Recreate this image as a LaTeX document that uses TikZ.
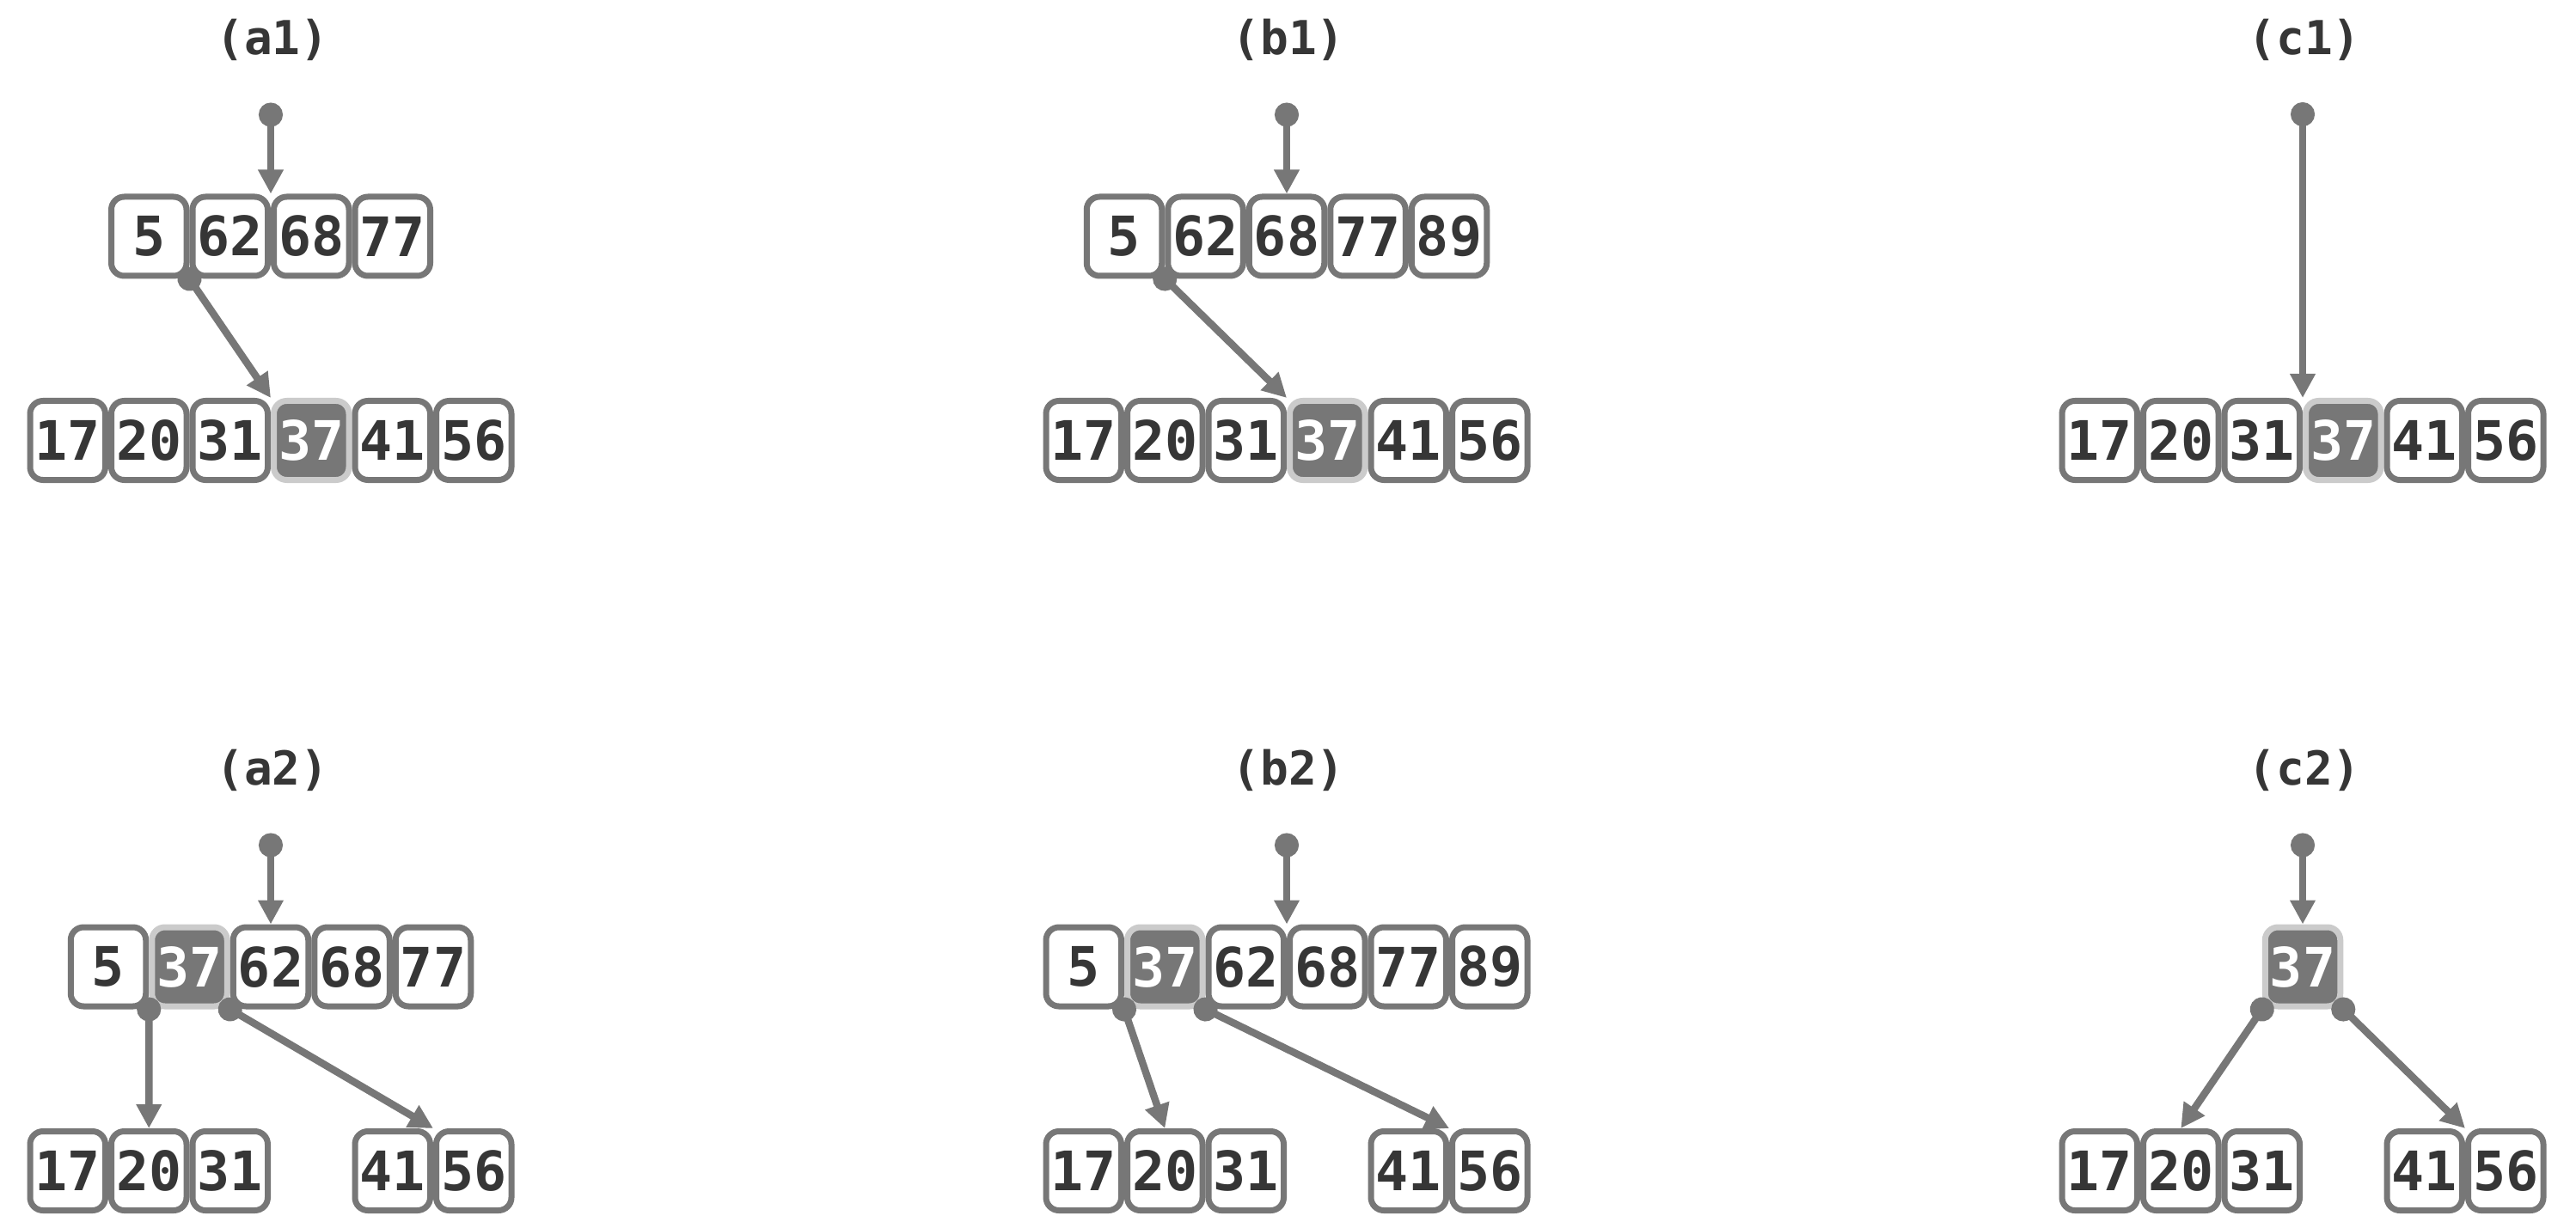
\documentclass[tikz,border=0pt]{standalone}
\usepackage{fontspec}
\newfontfamily\keyfont{DejaVu Sans Mono}
\usetikzlibrary{arrows.meta}
\usetikzlibrary{positioning}

\definecolor{linegray}{HTML}{777777}
\definecolor{rimgray}{HTML}{CBCBCB}
\definecolor{inkgray}{HTML}{363636}

\tikzset{
  key/.style={draw=linegray, fill=white, line width=0.7mm, rounded corners=1.5mm,
    minimum width=8.75mm, minimum height=9.2mm, inner sep=0pt, text=inkgray,
    font=\keyfont\bfseries\fontsize{18}{18}\selectfont},
  hit/.style={key, fill=linegray, draw=rimgray, text=white},
  caption/.style={text=inkgray, font=\keyfont\bfseries\fontsize{15.5}{15.5}\selectfont},
  ptr/.style={draw=linegray, line width=0.85mm, shorten <=-1.4mm,
    {Circle[length=2.8mm]}-{Triangle[length=2.8mm,width=2.8mm]}},
}

\begin{document}
\begin{tikzpicture}
  \useasboundingbox (0,0) rectangle (29.97,14.28);

  % (a1): 37 found in the leaf
  \node[caption] (ta1) at (3.17,13.82) {(a1)};
  \foreach \k [count=\i from 0] in {5,62,68,77}
    \node[key] (a1t\i) at (1.7325+0.945*\i,11.53) {\k};
  \foreach \k/\s [count=\i from 0] in {17/key,20/key,31/key,37/hit,41/key,56/key}
    \node[\s] (a1b\i) at (0.7875+0.945*\i,9.155) {\k};
  \coordinate[above=9.2mm of a1t1.north east] (ra1);
  \draw[ptr] (ra1) -- (a1t1.north east);
  \draw[ptr] (a1t0.south east) -- (a1b2.north east);

  % (b1): parent already full
  \node[caption] (tb1) at (14.99,13.82) {(b1)};
  \foreach \k [count=\i from 0] in {5,62,68,77,89}
    \node[key] (b1t\i) at (13.08+0.945*\i,11.53) {\k};
  \foreach \k/\s [count=\i from 0] in {17/key,20/key,31/key,37/hit,41/key,56/key}
    \node[\s] (b1b\i) at (12.6075+0.945*\i,9.155) {\k};
  \coordinate[above=9.2mm of b1t2.north] (rb1);
  \draw[ptr] (rb1) -- (b1t2.north);
  \draw[ptr] (b1t0.south east) -- (b1b2.north east);

  % (c1): the leaf is the root
  \node[caption] (tc1) at (26.81,13.82) {(c1)};
  \foreach \k/\s [count=\i from 0] in {17/key,20/key,31/key,37/hit,41/key,56/key}
    \node[\s] (c1b\i) at (24.4275+0.945*\i,9.155) {\k};
  \coordinate[above=33mm of c1b2.north east] (rc1);
  \draw[ptr] (rc1) -- (c1b2.north east);

  % (a2): 37 moved up, leaf split in two
  \node[caption] (ta2) at (3.17,5.32) {(a2)};
  \foreach \k/\s [count=\i from 0] in {5/key,37/hit,62/key,68/key,77/key}
    \node[\s] (a2t\i) at (1.26+0.945*\i,3.03) {\k};
  \foreach \k [count=\i from 0] in {17,20,31}
    \node[key] (a2b\i) at (0.7875+0.945*\i,0.655) {\k};
  \foreach \k [count=\i from 0] in {41,56}
    \node[key] (a2r\i) at (4.5675+0.945*\i,0.655) {\k};
  \coordinate[above=9.2mm of a2t2.north] (ra2);
  \draw[ptr] (ra2) -- (a2t2.north);
  \draw[ptr] (a2t1.south west) -- (a2b1.north);
  \draw[ptr] (a2t1.south east) -- (a2r0.north east);

  % (b2): parent overflows in turn
  \node[caption] (tb2) at (14.99,5.32) {(b2)};
  \foreach \k/\s [count=\i from 0] in {5/key,37/hit,62/key,68/key,77/key,89/key}
    \node[\s] (b2t\i) at (12.6075+0.945*\i,3.03) {\k};
  \foreach \k [count=\i from 0] in {17,20,31}
    \node[key] (b2b\i) at (12.6075+0.945*\i,0.655) {\k};
  \foreach \k [count=\i from 0] in {41,56}
    \node[key] (b2r\i) at (16.3875+0.945*\i,0.655) {\k};
  \coordinate[above=9.2mm of b2t2.north east] (rb2);
  \draw[ptr] (rb2) -- (b2t2.north east);
  \draw[ptr] (b2t1.south west) -- (b2b1.north);
  \draw[ptr] (b2t1.south east) -- (b2r0.north east);

  % (c2): new root
  \node[caption] (tc2) at (26.81,5.32) {(c2)};
  \node[hit] (c2t) at (26.79,3.03) {37};
  \foreach \k [count=\i from 0] in {17,20,31}
    \node[key] (c2b\i) at (24.4275+0.945*\i,0.655) {\k};
  \foreach \k [count=\i from 0] in {41,56}
    \node[key] (c2r\i) at (28.2075+0.945*\i,0.655) {\k};
  \coordinate[above=9.2mm of c2t.north] (rc2);
  \draw[ptr] (rc2) -- (c2t.north);
  \draw[ptr] (c2t.south west) -- (c2b1.north);
  \draw[ptr] (c2t.south east) -- (c2r0.north east);
\end{tikzpicture}
\end{document}
